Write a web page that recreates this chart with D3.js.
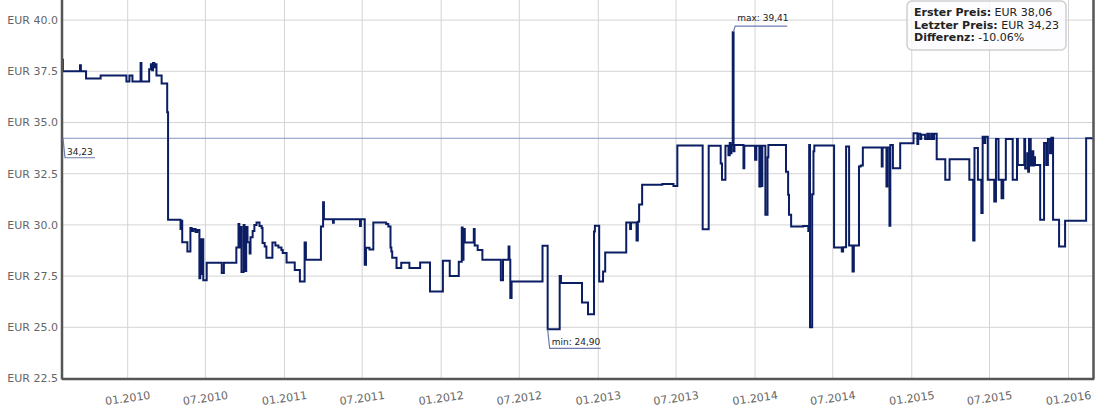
<!DOCTYPE html>
<html>
<head>
<meta charset="utf-8">
<script src="https://cdn.jsdelivr.net/npm/d3@7"></script>
<style>
  body { margin: 0; background: #fff; }
  svg { display: block; font-family: "DejaVu Sans", Verdana, sans-serif; }
</style>
</head>
<body>
<div id="chart"></div>
<script>
// Preisverlauf (Stufen), Datum = Beginn des Preises
const priceDates = [
  "2009-08-01","2009-08-03","2009-09-12","2009-09-14","2009-09-26","2009-10-30","2009-12-29","2010-01-05",
  "2010-01-12","2010-01-31","2010-02-02","2010-02-20","2010-02-24","2010-02-27","2010-03-01","2010-03-04",
  "2010-03-07","2010-03-09","2010-03-21","2010-04-03","2010-04-05","2010-05-04","2010-05-06","2010-05-08",
  "2010-05-20","2010-05-27","2010-05-30","2010-06-03","2010-06-08","2010-06-12","2010-06-17","2010-06-19",
  "2010-06-21","2010-06-24","2010-06-26","2010-07-04","2010-08-08","2010-08-13","2010-09-11","2010-09-16",
  "2010-09-18","2010-09-20","2010-09-23","2010-09-28","2010-09-30","2010-10-04","2010-10-07","2010-10-12",
  "2010-10-14","2010-10-19","2010-10-23","2010-10-28","2010-11-04","2010-11-09","2010-11-11","2010-11-16",
  "2010-11-20","2010-12-04","2010-12-11","2010-12-18","2010-12-25","2010-12-28","2011-01-06","2011-01-25",
  "2011-02-06","2011-02-17","2011-02-20","2011-03-27","2011-04-01","2011-04-03","2011-04-24","2011-04-26",
  "2011-06-26","2011-06-28","2011-07-07","2011-07-10","2011-07-18","2011-07-27","2011-08-26","2011-08-31",
  "2011-09-05","2011-09-07","2011-09-09","2011-09-19","2011-09-30","2011-10-19","2011-11-13","2011-12-06",
  "2012-01-05","2012-01-21","2012-02-11","2012-02-18","2012-02-20","2012-02-22","2012-02-25","2012-03-17",
  "2012-03-19","2012-03-26","2012-04-06","2012-05-19","2012-05-24","2012-06-06","2012-06-08","2012-06-10",
  "2012-06-13","2012-08-24","2012-09-05","2012-10-03","2012-10-06","2012-11-24","2012-12-08","2012-12-22",
  "2012-12-24","2013-01-03","2013-01-12","2013-01-17","2013-03-07","2013-03-16","2013-03-18","2013-03-31",
  "2013-04-03","2013-04-06","2013-04-13","2013-05-30","2013-06-25","2013-07-04","2013-09-01","2013-09-15",
  "2013-10-13","2013-10-16","2013-10-24","2013-10-31","2013-11-03","2013-11-05","2013-11-07","2013-11-10",
  "2013-11-12","2013-11-14","2013-12-05","2013-12-07","2014-01-01","2014-01-04","2014-01-11","2014-01-14",
  "2014-01-16","2014-01-18","2014-01-25","2014-01-30","2014-02-01","2014-03-14","2014-03-19","2014-03-21",
  "2014-03-26","2014-04-23","2014-05-05","2014-05-07","2014-05-09","2014-05-14","2014-05-17","2014-05-19",
  "2014-07-04","2014-07-22","2014-07-25","2014-08-01","2014-08-08","2014-08-16","2014-08-19","2014-08-31",
  "2014-09-04","2014-09-09","2014-10-23","2014-10-25","2014-11-03","2014-11-05","2014-11-10","2014-11-12",
  "2014-11-18","2014-12-05","2015-01-05","2015-01-14","2015-01-16","2015-01-21","2015-01-23","2015-02-01",
  "2015-02-06","2015-02-10","2015-02-15","2015-02-19","2015-02-22","2015-02-28","2015-03-20","2015-03-30",
  "2015-05-15","2015-05-24","2015-05-27","2015-06-04","2015-06-12","2015-06-15","2015-06-19","2015-06-21",
  "2015-06-27","2015-07-12","2015-07-16","2015-07-22","2015-07-29","2015-08-02","2015-08-08","2015-08-24",
  "2015-09-03","2015-09-05","2015-09-20","2015-09-22","2015-09-27","2015-09-29","2015-10-01","2015-10-05",
  "2015-10-08","2015-10-11","2015-10-13","2015-10-15","2015-10-27","2015-11-05","2015-11-10","2015-11-14",
  "2015-11-19","2015-11-22","2015-11-26","2015-12-10","2015-12-24","2016-02-11","2016-02-27"
];
const priceValues = [
  38.06,37.5,37.8,37.5,37.15,37.3,37.0,37.3,
  37.0,37.9,37.0,37.6,37.85,37.55,37.9,37.7,
  37.85,37.3,36.9,35.5,30.25,29.8,30.2,29.15,
  28.7,29.85,29.7,29.8,29.65,29.75,27.4,29.3,
  27.6,29.3,27.3,28.15,27.65,28.15,28.9,30.05,
  28.9,29.9,27.7,30.0,27.75,29.9,29.15,28.6,
  29.4,29.7,30.0,30.12,29.95,29.85,29.12,28.95,
  28.4,29.14,29.0,28.9,28.78,28.63,28.16,27.8,
  27.24,29.14,28.3,29.92,31.1,30.28,30.1,30.28,
  29.95,30.28,28.05,28.88,28.8,30.12,30.05,29.92,
  28.9,28.7,28.4,27.9,28.15,27.9,28.16,26.75,
  28.25,27.5,28.2,29.87,28.3,29.8,29.14,29.8,
  29.0,28.78,28.3,27.3,28.3,28.95,28.3,26.43,
  27.24,28.98,24.9,27.5,27.16,26.21,25.64,29.68,
  29.96,27.24,27.72,28.65,30.12,29.8,30.12,29.24,
  30.15,31.0,31.96,32.0,31.9,33.88,29.79,33.86,
  33.0,32.2,33.86,33.4,34.0,33.5,33.9,39.41,
  33.6,33.9,32.77,33.86,33.18,33.86,31.87,33.86,
  31.9,33.86,30.5,33.3,33.9,32.6,31.47,30.5,
  29.92,29.95,29.7,33.9,25.0,31.5,33.6,33.88,
  28.9,28.7,28.91,33.83,28.99,27.72,28.99,32.85,
  32.9,33.78,32.85,33.78,31.87,33.78,29.96,33.9,
  32.77,33.99,34.48,33.95,34.45,34.2,34.4,34.2,
  34.45,34.2,34.45,34.2,34.45,33.21,32.2,33.21,
  32.2,29.24,33.75,32.2,30.58,34.3,34.0,34.3,
  32.2,31.14,34.2,32.2,31.3,32.2,34.2,32.2,
  34.2,32.93,34.2,32.75,33.5,32.6,34.2,32.9,
  33.6,32.9,33.3,32.93,30.25,34.0,32.93,34.2,
  33.5,34.26,30.25,28.95,30.2,34.23,34.23
];

const yTicks = [22.5, 25.0, 27.5, 30.0, 32.5, 35.0, 37.5, 40.0];
const xTickDates = ["2010-01-01","2010-07-01","2011-01-01","2011-07-01","2012-01-01","2012-07-01",
  "2013-01-01","2013-07-01","2014-01-01","2014-07-01","2015-01-01","2015-07-01","2016-01-01"];

const firstPrice = "38,06";
const lastPriceLabel = "34,23";
const lastPriceValue = 34.23;
const maxLabel = "max: 39,41";
const minLabel = "min: 24,90";
const summaryLabels = ["Erster Preis:", "Letzter Preis:", "Differenz:"];
const summaryValues = [" EUR 38,06", " EUR 34,23", " -10.06%"];

function zeichneChart() {
    var breite = 1113, hoehe = 417;
    var links = 62, rechts = 1093, oben = 0, unten = 378.5;
    var parse = d3.timeParse("%Y-%m-%d");

    var daten = priceDates.map((d, i) => ({ datum: parse(d), preis: priceValues[i] }));

    var svg = d3.select("#chart").append("svg")
        .attr("width", breite)
        .attr("height", hoehe);

    var x = d3.scaleTime()
        .domain([parse("2009-08-01"), parse("2016-02-27")])
        .range([links, rechts]);

    var y = d3.scaleLinear()
        .domain([22.5, 22.5 + (unten - oben) / 20.48])
        .range([unten, oben]);

    // Gitter
    svg.append("g")
        .selectAll("line.h")
        .data(yTicks)
        .enter().append("line")
        .attr("x1", links).attr("x2", rechts)
        .attr("y1", d => y(d)).attr("y2", d => y(d))
        .attr("stroke", "#d4d4d4");

    svg.append("g")
        .selectAll("line.v")
        .data(xTickDates.map(parse))
        .enter().append("line")
        .attr("x1", d => x(d)).attr("x2", d => x(d))
        .attr("y1", oben).attr("y2", unten)
        .attr("stroke", "#d4d4d4");

    // Y-Achse Beschriftung
    svg.append("g")
        .selectAll("text")
        .data(yTicks)
        .enter().append("text")
        .attr("x", 58)
        .attr("y", d => y(d))
        .attr("dy", "0.36em")
        .attr("text-anchor", "end")
        .attr("font-size", "11px")
        .attr("fill", "#666")
        .text(d => "EUR " + d.toFixed(1));

    // X-Achse Beschriftung
    var fmt = d3.timeFormat("%m.%Y");
    svg.append("g")
        .selectAll("text")
        .data(xTickDates.map(parse))
        .enter().append("text")
        .attr("transform", d => "translate(" + x(d) + ",398) rotate(-8)")
        .attr("dy", "0.36em")
        .attr("text-anchor", "middle")
        .attr("font-size", "11px")
        .attr("fill", "#666")
        .text(d => fmt(d));

    // Linie letzter Preis
    var yLetzter = y(lastPriceValue);
    svg.append("line")
        .attr("x1", links).attr("x2", rechts)
        .attr("y1", yLetzter).attr("y2", yLetzter)
        .attr("stroke", "#8792c4")
        .attr("stroke-width", 1);

    // Preislinie
    var linie = d3.line()
        .x(d => x(d.datum))
        .y(d => y(d.preis))
        .curve(d3.curveStepAfter);

    svg.append("path")
        .datum(daten)
        .attr("d", linie)
        .attr("fill", "none")
        .attr("stroke", "#0b1d63")
        .attr("stroke-width", 2)
        .attr("stroke-linejoin", "miter");

    // Achsenrahmen
    var rahmen = "#555";
    svg.append("line").attr("x1", links).attr("x2", links).attr("y1", 0).attr("y2", unten + 1)
        .attr("stroke", rahmen).attr("stroke-width", 2.5);
    svg.append("line").attr("x1", links).attr("x2", rechts + 1).attr("y1", unten + 0.5).attr("y2", unten + 0.5)
        .attr("stroke", rahmen).attr("stroke-width", 2.5);
    svg.append("line").attr("x1", rechts + 0.5).attr("x2", rechts + 0.5).attr("y1", 0).attr("y2", unten + 1)
        .attr("stroke", rahmen).attr("stroke-width", 2.5);

    // Fahnen (Beschriftungen)
    var fahnenFarbe = "#6e7bb0";
    function fahne(px, py, dx, dy, laenge, text, textDy) {
        var ly = py + dy;
        svg.append("path")
            .attr("d", "M" + px + "," + py + " L" + (px + dx) + "," + ly + " L" + (px + dx + laenge) + "," + ly)
            .attr("fill", "none")
            .attr("stroke", fahnenFarbe)
            .attr("stroke-width", 1.2);
        svg.append("text")
            .attr("x", px + dx + 2)
            .attr("y", ly + textDy)
            .attr("font-size", "9px")
            .attr("fill", "#222")
            .text(text);
    }

    fahne(links + 1, yLetzter, 2, 19.5, 30, lastPriceLabel, -3);

    var iMax = priceValues.indexOf(d3.max(priceValues));
    var iMin = priceValues.indexOf(d3.min(priceValues));
    fahne(x(daten[iMax].datum) + 0.5, y(daten[iMax].preis), 2, -6, 52, maxLabel, -5);
    fahne(x(daten[iMin].datum), y(daten[iMin].preis), 2, 19, 51, minLabel, -3.5);

    // Info-Box
    var box = svg.append("g").attr("transform", "translate(907,1)");
    box.append("rect")
        .attr("width", 159)
        .attr("height", 49)
        .attr("rx", 5)
        .attr("fill", "rgba(252,252,255,0.8)")
        .attr("stroke", "#cfcfcf")
        .attr("stroke-width", 1.5);

    var zeilen = box.selectAll("text")
        .data(summaryLabels)
        .enter().append("text")
        .attr("x", 7)
        .attr("y", (d, i) => 15 + i * 12.6)
        .attr("font-size", "11px")
        .attr("fill", "#222");
    zeilen.append("tspan").attr("font-weight", "bold").text(d => d);
    zeilen.append("tspan").text((d, i) => summaryValues[i]);
}

zeichneChart();
</script>
</body>
</html>
